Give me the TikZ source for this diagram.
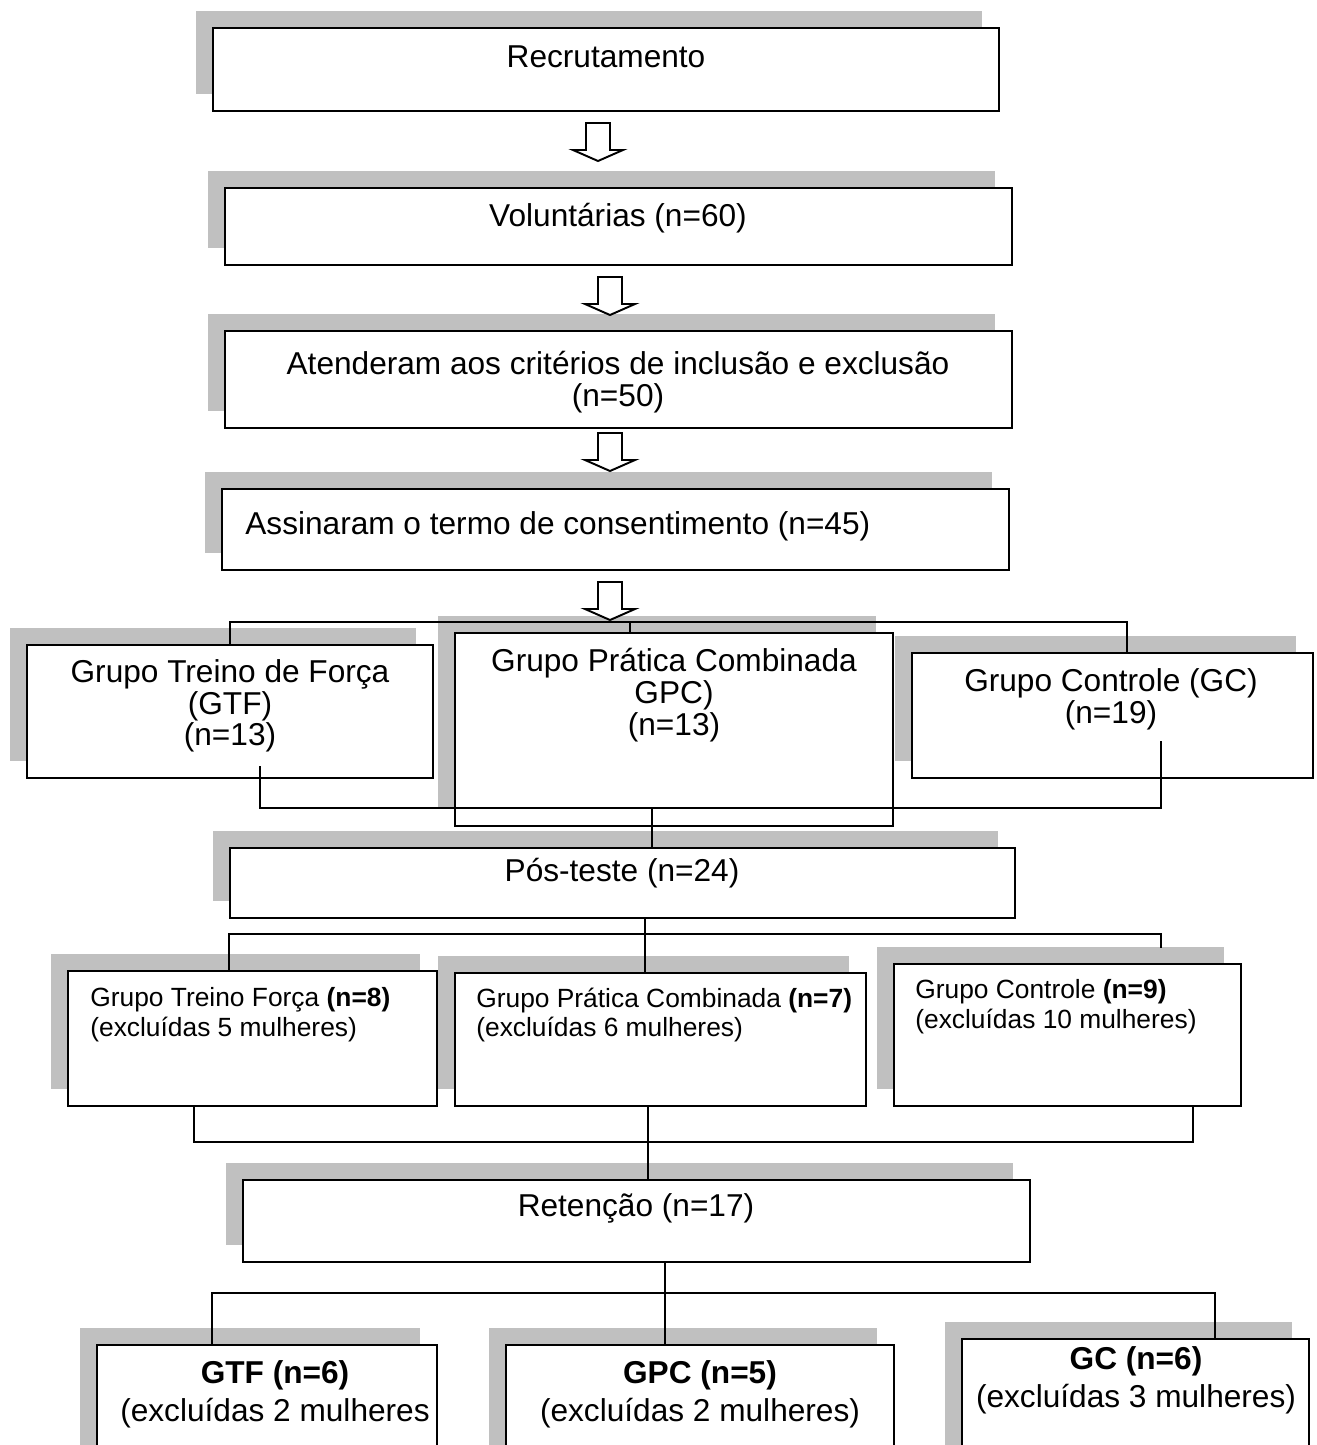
\documentclass[tikz,border=0pt]{standalone}
\usepackage{fontspec}
\setmainfont{Liberation Sans}
\usetikzlibrary{shadows}

\definecolor{sombra}{RGB}{192,192,192}

\begin{document}
\begin{tikzpicture}[x=0.02cm, y=-0.02cm,
        caixa/.style={draw, line width=1.1pt, fill=white, inner sep=0pt,
            drop shadow={shadow xshift=-0.34cm, shadow yshift=0.34cm, fill=sombra, opacity=1}},
        texto/.style={font=\fontsize{18}{18}\selectfont, align=center, inner sep=0pt},
        textop/.style={font=\fontsize{15}{17}\selectfont, align=left, inner sep=0pt, anchor=west},
        textog/.style={font=\fontsize{18}{21.5}\selectfont, align=center, inner sep=0pt},
        linha/.style={line width=1.1pt},
        setaoca/.pic={\draw[line width=1.1pt, fill=white] (-12,0) -- (12,0) -- (12,27) -- (25,27) -- (0,38) -- (-25,27) -- (-12,27) -- cycle;}]

    \useasboundingbox (0,0) rectangle (1317,1445);
    \fill[white] (0,0) rectangle (1317,1445);
    \clip (0,0) rectangle (1317,1445);

    % Etapas iniciais
    \node[caixa, minimum width=15.72cm, minimum height=1.66cm] (rec) at (606,69.5) {};
    \node[texto] (recT) at (606,57) {Recrutamento};

    \node[caixa, minimum width=15.74cm, minimum height=1.54cm] (vol) at (618.5,226.5) {};
    \node[texto] (volT) at (618,218) {Voluntárias (n=60)};

    \node[caixa, minimum width=15.74cm, minimum height=1.94cm] (aten) at (618.5,379.5) {};
    \node[texto] (atenT) at (618,382) {Atenderam aos critérios de inclusão e exclusão\\(n=50)};

    \node[caixa, minimum width=15.74cm, minimum height=1.62cm] (assin) at (615.5,529.5) {};
    \node[texto, anchor=west] (assinT) at (245,526) {Assinaram o termo de consentimento (n=45)};

    % Grupos
    \node[caixa, minimum width=8.12cm, minimum height=2.66cm] (gtf) at (230,711.5) {};
    \node[texto] (gtfT) at (230,706) {Grupo Treino de Força\\(GTF)\\(n=13)};

    \node[caixa, minimum width=8.76cm, minimum height=3.86cm] (gpc) at (674,729.5) {};
    \node[texto] (gpcT) at (674,695) {Grupo Prática Combinada\\GPC)\\(n=13)};

    \node[caixa, minimum width=8.02cm, minimum height=2.5cm] (gc) at (1112.5,715.5) {};
    \node[texto] (gcT) at (1111,699) {Grupo Controle (GC)\\(n=19)};

    % Pos-teste
    \node[caixa, minimum width=15.7cm, minimum height=1.4cm] (pos) at (622.5,883) {};
    \node[texto] (posT) at (622,873) {Pós-teste (n=24)};

    \node[caixa, minimum width=7.38cm, minimum height=2.7cm] (gtf2) at (252.5,1038.5) {};
    \node[textop] (gtf2T) at (90,1015) {Grupo Treino Força \textbf{(n=8)}\\(excluídas 5 mulheres)};

    \node[caixa, minimum width=8.22cm, minimum height=2.66cm] (gpc2) at (660.5,1039.5) {};
    \node[textop] (gpc2T) at (476,1015) {Grupo Prática Combinada \textbf{(n=7)}\\(excluídas 6 mulheres)};

    \node[caixa, minimum width=6.94cm, minimum height=2.84cm] (gc2) at (1067.5,1035) {};
    \node[textop] (gc2T) at (915,1007) {Grupo Controle \textbf{(n=9)}\\(excluídas 10 mulheres)};

    % Retencao
    \node[caixa, minimum width=15.74cm, minimum height=1.64cm] (ret) at (636.5,1221) {};
    \node[texto] (retT) at (636,1208) {Retenção (n=17)};

    \node[caixa, minimum width=6.8cm, minimum height=3.1cm] (gtf3) at (267,1422.5) {};
    \node[textog] (gtf3T) at (275,1394) {\textbf{GTF (n=6)}\\(excluídas 2 mulheres};

    \node[caixa, minimum width=7.76cm, minimum height=3.1cm] (gpc3) at (700,1422.5) {};
    \node[textog] (gpc3T) at (700,1394) {\textbf{GPC (n=5)}\\(excluídas 2 mulheres)};

    \node[caixa, minimum width=6.94cm, minimum height=3.22cm] (gc3) at (1135.5,1419.5) {};
    \node[textog] (gc3T) at (1136,1380) {\textbf{GC (n=6)}\\(excluídas 3 mulheres)};

    % Ligacoes
    \coordinate (j1) at (630,622);
    \coordinate (gcE) at (1127,653);
    \draw[linha] (gtf.north) |- (j1) -| (gcE);
    \draw[linha] (j1) -- (j1 |- gpc.north);

    \coordinate (j2) at (652,808);
    \coordinate (gtfS) at (260,766);
    \coordinate (gcS) at (1161,741);
    \draw[linha] (gtfS) |- (j2) -| (gcS);
    \draw[linha] (j2) -- (j2 |- pos.north);

    \coordinate (j3) at (645,934);
    \coordinate (gtf2E) at (229,971);
    \coordinate (gc2E) at (1161,948);
    \draw[linha] (j3 |- pos.south) -- (j3 |- gpc2.north);
    \draw[linha] (gtf2E) |- (j3) -| (gc2E);

    \coordinate (j4) at (648,1142);
    \coordinate (gtf2S) at (194,1106);
    \coordinate (gc2S) at (1193,1106);
    \draw[linha] (gtf2S) |- (j4) -| (gc2S);
    \draw[linha] (j4 |- gpc2.south) -- (j4 |- ret.north);

    \coordinate (j5) at (665,1293);
    \coordinate (gtf3E) at (212,1345);
    \coordinate (gc3E) at (1215,1339);
    \draw[linha] (j5 |- ret.south) -- (j5 |- gpc3.north);
    \draw[linha] (gtf3E) |- (j5) -| (gc3E);

    % Setas ocas entre as etapas
    \pic (s1) at (598,123) {setaoca};
    \pic (s2) at (610,277) {setaoca};
    \pic (s3) at (610,433) {setaoca};
    \pic (s4) at (610,582) {setaoca};

\end{tikzpicture}
\end{document}
